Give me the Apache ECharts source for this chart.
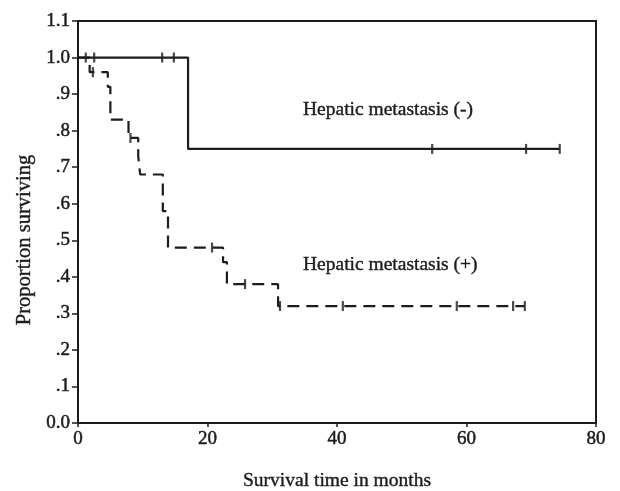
<!DOCTYPE html>
<html>
<head>
<meta charset="utf-8">
<script src="https://cdn.jsdelivr.net/npm/echarts@6/dist/echarts.min.js"></script>
<style>
html,body{margin:0;padding:0;background:#fff;}
#chart{width:620px;height:491px;}
</style>
</head>
<body>
<div id="chart"></div>
<script>
// Kaplan-Meier steps: [month, proportion surviving after that time]
var negSteps = [[0, 1.0], [17.0, 0.75], [74.4, 0.75]];
var negCensored = [[1.2, 1.0], [2.5, 1.0], [13.0, 1.0], [14.8, 1.0], [54.7, 0.75], [69.2, 0.75], [74.4, 0.75]];
var posSteps = [[0, 1.0], [1.8, 0.96], [4.6, 0.92], [5.0, 0.83], [7.8, 0.78], [9.3, 0.73], [9.6, 0.68],
                [13.1, 0.58], [13.9, 0.48], [22.4, 0.44], [23.0, 0.38], [30.9, 0.32], [69.0, 0.32]];
var posCensored = [[2.3, 0.96], [8.1, 0.78], [20.7, 0.48], [25.8, 0.38], [31.2, 0.32], [40.9, 0.32],
                   [58.5, 0.32], [67.2, 0.32], [69.0, 0.32]];
var xTicks = [0, 20, 40, 60, 80];
var yTickLabels = ['0.0', '.1', '.2', '.3', '.4', '.5', '.6', '.7', '.8', '.9', '1.0', '1.1'];
var labelNeg = 'Hepatic metastasis (-)';
var labelPos = 'Hepatic metastasis (+)';
var xTitle = 'Survival time in months';
var yTitle = 'Proportion surviving';

var ink = '#1c1c1c';
var font = '"Liberation Serif", "DejaVu Serif", serif';
var heavy = {textBorderColor: ink, textBorderWidth: 0.5};
var chart = echarts.init(document.getElementById('chart'), null, {renderer: 'canvas'});
chart.setOption({
  animation: false,
  backgroundColor: '#fff',
  grid: {left: 78, right: 24, top: 21, bottom: 68, show: true, borderColor: ink, borderWidth: 2, backgroundColor: 'transparent'},
  xAxis: {
    type: 'value', min: xTicks[0], max: xTicks[xTicks.length - 1], interval: xTicks[1] - xTicks[0],
    axisLine: {lineStyle: {color: ink, width: 2}},
    axisTick: {show: true, length: 4, lineStyle: {color: ink, width: 1.5}},
    splitLine: {show: false},
    axisLabel: Object.assign({color: ink, fontFamily: font, fontSize: 19, margin: 7}, heavy)
  },
  yAxis: {
    type: 'value', min: 0, max: 1.1, interval: 0.1,
    axisLine: {show: true, lineStyle: {color: ink, width: 2}},
    axisTick: {show: true, length: 6, lineStyle: {color: ink, width: 1.5}},
    splitLine: {show: false},
    axisLabel: Object.assign({color: ink, fontFamily: font, fontSize: 19, margin: 8,
      formatter: function (v) { return yTickLabels[Math.round(v * 10)]; }}, heavy)
  },
  graphic: [
    {type: 'text', x: 303, y: 110, style: {text: labelNeg, fill: ink, stroke: ink, lineWidth: 0.4, font: '19.5px ' + font, textAlign: 'left', textVerticalAlign: 'middle'}},
    {type: 'text', x: 303, y: 265, style: {text: labelPos, fill: ink, stroke: ink, lineWidth: 0.4, font: '19.5px ' + font, textAlign: 'left', textVerticalAlign: 'middle'}},
    {type: 'text', x: 337, y: 481, style: {text: xTitle, fill: ink, stroke: ink, lineWidth: 0.4, font: '19.5px ' + font, textAlign: 'center', textVerticalAlign: 'middle'}},
    {type: 'text', x: 25, y: 240, rotation: Math.PI / 2, style: {text: yTitle, fill: ink, stroke: ink, lineWidth: 0.4, font: '20.5px ' + font, textAlign: 'center', textVerticalAlign: 'middle'}}
  ],
  series: [
    {type: 'line', step: 'end', data: negSteps, showSymbol: false, symbol: 'none',
     lineStyle: {color: ink, width: 2.2}, z: 3},
    {type: 'line', step: 'end', data: posSteps, showSymbol: false, symbol: 'none',
     lineStyle: {color: ink, width: 2.2, type: [12, 7]}, z: 3},
    {type: 'scatter', data: negCensored, symbol: 'rect', symbolSize: [2.2, 10], itemStyle: {color: ink}, z: 4},
    {type: 'scatter', data: posCensored, symbol: 'rect', symbolSize: [2.2, 10], itemStyle: {color: ink}, z: 4}
  ]
});
</script>
</body>
</html>
